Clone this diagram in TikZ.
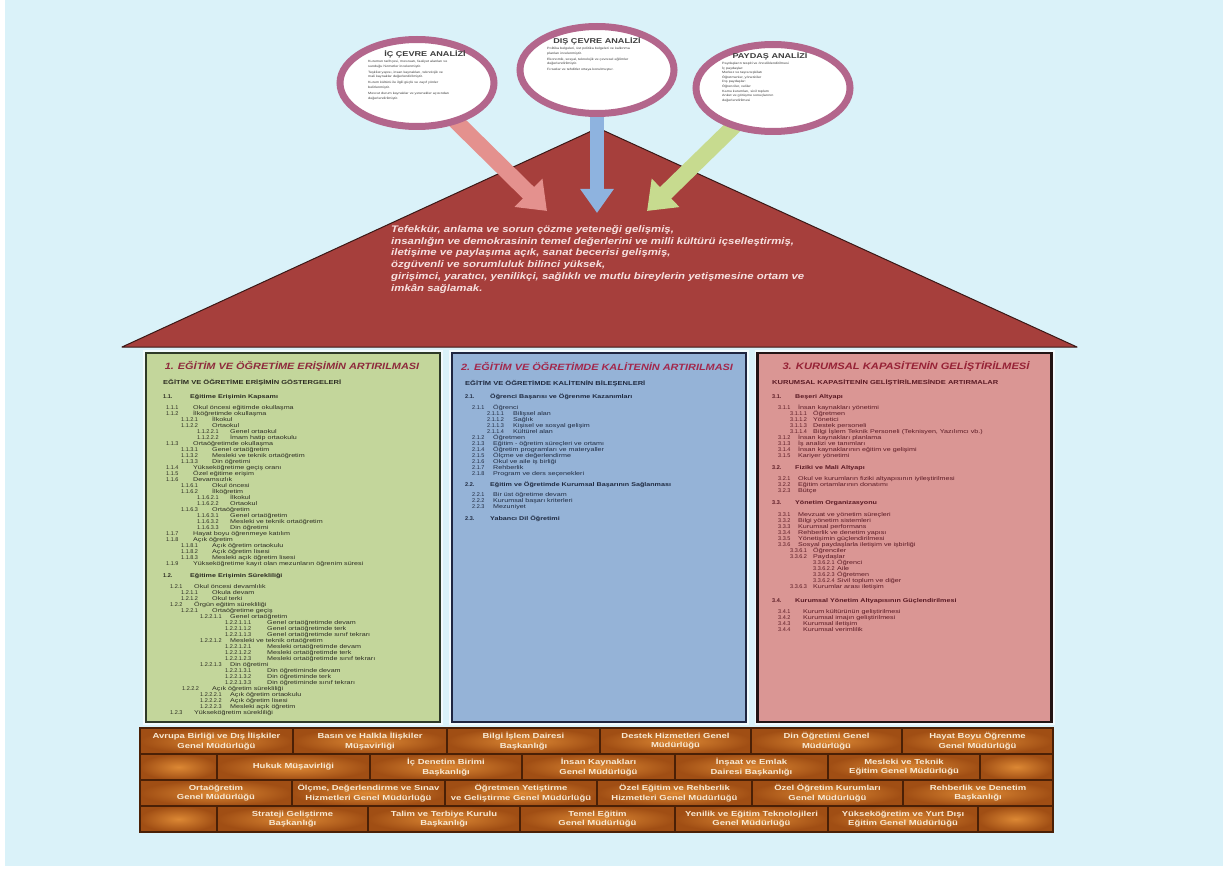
\documentclass[tikz,border=0pt]{standalone}
\usepackage{fontspec}
\setmainfont{Liberation Sans}
\newfontfamily\wideA[FakeStretch=1.3]{Liberation Sans}
\newfontfamily\wideB[FakeStretch=1.2]{Liberation Sans}
\newfontfamily\numfont{Liberation Sans}
\usetikzlibrary{shapes.geometric,arrows.meta}
\definecolor{bg}{HTML}{DAF2F9}
\definecolor{roof}{HTML}{A63F3C}
\definecolor{roofline}{HTML}{3A1816}
\definecolor{rooftxt}{HTML}{F7E1E0}
\definecolor{colA}{HTML}{C3D69B}
\definecolor{colB}{HTML}{95B3D7}
\definecolor{colC}{HTML}{DA9694}
\definecolor{lineA}{HTML}{2E3A28}
\definecolor{lineB}{HTML}{1E2540}
\definecolor{lineC}{HTML}{221414}
\definecolor{txtA}{HTML}{2C2C22}
\definecolor{txtB}{HTML}{1F2A40}
\definecolor{txtC}{HTML}{5A1A24}
\definecolor{titA}{HTML}{8E2A3C}
\definecolor{titB}{HTML}{A3284C}
\definecolor{titC}{HTML}{962236}
\definecolor{ring}{HTML}{B3668C}
\definecolor{ctext}{HTML}{3C3C3C}
\definecolor{arrA}{HTML}{E4918E}
\definecolor{arrB}{HTML}{8EB3DF}
\definecolor{arrC}{HTML}{C7DB8F}
\definecolor{brickin}{HTML}{DC8834}
\definecolor{brickout}{HTML}{A04E14}
\definecolor{brickline}{HTML}{4A2006}
\definecolor{bricktext}{HTML}{F8EAD4}
\pgfdeclarelayer{back}
\pgfdeclarelayer{mid}
\pgfsetlayers{back,mid,main}
\newcommand\Lnum[3]{\hspace*{#1pt}\makebox[#2pt][l]{\numfont #3}}
\newcommand\brk[5]{\node[brickbox, minimum width=#4pt] (#1) at (#2,#3) {#5};}
\tikzset{
  ringnode/.style={ellipse, draw=ring, line width=7pt, fill=white, minimum width=154pt, minimum height=87pt, inner sep=0pt},
  ctitle/.style={font=\wideA\fontsize{7}{7}\selectfont\bfseries, text=ctext, inner sep=0pt},
  cbody/.style={font=\wideB\fontsize{3.1}{4.6}\selectfont, text=ctext, align=left, inner sep=0pt},
  bigarrow/.style={line width=16pt, -{Triangle[width=38pt,length=26pt]}},
  colbox/.style={rectangle, line width=2.6pt, minimum width=294pt, minimum height=369pt, inner sep=0pt, preaction={draw=white!65!bg, line width=6pt}},
  coltitle/.style={font=\wideB\fontsize{9.1}{9.5}\selectfont\bfseries\itshape, inner sep=0pt},
  colsub/.style={font=\wideA\fontsize{5.8}{6}\selectfont\bfseries, inner sep=0pt, anchor=west},
  colitems/.style={font=\wideA\fontsize{5.5}{6}\selectfont, align=left, inner sep=0pt, anchor=north west},
  brickbox/.style={rectangle, draw=brickline, line width=1.3pt, inner color=brickin, outer color=brickout, minimum height=26pt, inner sep=1pt, font=\wideA\fontsize{7.3}{9.5}\selectfont\bfseries, text=bricktext, align=center},
  rooftext/.style={font=\wideB\fontsize{9.5}{11.9}\selectfont\bfseries\itshape, text=rooftxt, align=left, inner sep=0pt, anchor=north west}
}
\begin{document}
\begin{tikzpicture}[x=1pt,y=-1pt]
\useasboundingbox (0,0) rectangle (1223,869);
\begin{pgfonlayer}{back}
\fill[white] (0,0) rectangle (1223,869);
\fill[bg] (5,0) rectangle (1223,866);
\filldraw[fill=roof, draw=roofline, line width=1pt, line join=round] (122,347) -- (598,128) -- (1077,347) -- cycle;
\end{pgfonlayer}

% circles
\node[ringnode] (c1) at (417,83) {};
\node[ringnode] (c2) at (597,70) {};
\node[ringnode] (c3) at (773,88) {};

\coordinate (tipA) at (547,211);
\coordinate (tipB) at (597,213);
\coordinate (tipC) at (647,211);
\begin{pgfonlayer}{mid}
\draw[bigarrow, arrA] (c1.center) -- (tipA);
\draw[bigarrow, arrB, line width=14pt, -{Triangle[width=32pt,length=24pt]}] (c2.center) -- (tipB);
\draw[bigarrow, arrC] (c3.center) -- (tipC);
\end{pgfonlayer}

\node[ctitle] (c1t) at (425,54) {İÇ ÇEVRE ANALİZİ};
\node[cbody, anchor=north west] (c1b) at (368,60) {Kurumun tarihçesi, mevzuatı, faaliyet alanları ve\\sunduğu hizmetler incelenmiştir.\\[1.5pt]Teşkilat yapısı, insan kaynakları, teknolojik ve\\mali kaynaklar değerlendirilmiştir.\\[1.5pt]Kurum kültürü ile ilgili güçlü ve zayıf yönler\\belirlenmiştir.\\[1.5pt]Mevcut durum kaynaklar ve yetenekler açısından\\değerlendirilmiştir.};
\node[ctitle] (c2t) at (597,41) {DIŞ ÇEVRE ANALİZİ};
\node[cbody, anchor=north west] (c2b) at (547,47) {Politika belgeleri, üst politika belgeleri ve kalkınma\\planları incelenmiştir.\\[1.5pt]Ekonomik, sosyal, teknolojik ve çevresel eğilimler\\değerlendirilmiştir.\\[1.5pt]Fırsatlar ve tehditler ortaya konulmuştur.};
\node[ctitle] (c3t) at (770,56) {PAYDAŞ ANALİZİ};
\node[cbody, anchor=north west] (c3b) at (722,62) {Paydaşların tespiti ve önceliklendirilmesi\\İç paydaşlar:\\Merkez ve taşra teşkilatı\\Öğretmenler, yöneticiler\\Dış paydaşlar:\\Öğrenciler, veliler\\Kamu kurumları, sivil toplum\\Anket ve görüşme sonuçlarının\\değerlendirilmesi};

% roof text
\node[rooftext] (vision) at (391,225) {Tefekkür, anlama ve sorun çözme yeteneği gelişmiş,\\insanlığın ve demokrasinin temel değerlerini ve milli kültürü içselleştirmiş,\\iletişime ve paylaşıma açık, sanat becerisi gelişmiş,\\özgüvenli ve sorumluluk bilinci yüksek,\\girişimci, yaratıcı, yenilikçi, sağlıklı ve mutlu bireylerin yetişmesine  ortam ve\\imkân sağlamak.};

% columns
\node[colbox, fill=colA, draw=lineA] (col1) at (293,537.5) {};
\node[colbox, fill=colB, draw=lineB] (col2) at (599,537.5) {};
\node[colbox, fill=colC, draw=lineC] (col3) at (904.5,537.5) {};

\node[coltitle, text=titA] (t1) at (292,366) {1. EĞİTİM VE ÖĞRETİME ERİŞİMİN ARTIRILMASI};
\node[coltitle, text=titB] (t2) at (597,366) {2. EĞİTİM VE ÖĞRETİMDE KALİTENİN ARTIRILMASI};
\node[coltitle, text=titC, font=\wideB\fontsize{9.3}{9.5}\selectfont\bfseries\itshape] (t3) at (906,366) {3. KURUMSAL KAPASİTENİN GELİŞTİRİLMESİ};

\node[colsub, text=txtA] (s1) at (163,383) {EĞİTİM VE ÖĞRETİME ERİŞİMİN GÖSTERGELERİ};
\node[colsub, text=txtB] (s2) at (465,384) {EĞİTİM VE ÖĞRETİMDE KALİTENİN BİLEŞENLERİ};
\node[colsub, text=txtC] (s3) at (772,383) {KURUMSAL KAPASİTENİN GELİŞTİRİLMESİNDE ARTIRMALAR};

\node[colitems, text=txtA] (i1) at (163,394) {%
\textbf{\Lnum{0}{27}{1.1.}Eğitime Erişimin Kapsamı}\\[5pt]
\Lnum{3}{27}{1.1.1}Okul öncesi eğitimde okullaşma\\
\Lnum{3}{27}{1.1.2}İlköğretimde okullaşma\\
\Lnum{18}{31}{1.1.2.1}İlkokul\\
\Lnum{18}{31}{1.1.2.2}Ortaokul\\
\Lnum{34}{33}{1.1.2.2.1}Genel ortaokul\\
\Lnum{34}{33}{1.1.2.2.2}İmam hatip ortaokulu\\
\Lnum{3}{27}{1.1.3}Ortaöğretimde okullaşma\\
\Lnum{18}{31}{1.1.3.1}Genel ortaöğretim\\
\Lnum{18}{31}{1.1.3.2}Mesleki ve teknik ortaöğretim\\
\Lnum{18}{31}{1.1.3.3}Din öğretimi\\
\Lnum{3}{27}{1.1.4}Yükseköğretime geçiş oranı\\
\Lnum{3}{27}{1.1.5}Özel eğitime erişim\\
\Lnum{3}{27}{1.1.6}Devamsızlık\\
\Lnum{18}{31}{1.1.6.1}Okul öncesi\\
\Lnum{18}{31}{1.1.6.2}İlköğretim\\
\Lnum{34}{33}{1.1.6.2.1}İlkokul\\
\Lnum{34}{33}{1.1.6.2.2}Ortaokul\\
\Lnum{18}{31}{1.1.6.3}Ortaöğretim\\
\Lnum{34}{33}{1.1.6.3.1}Genel ortaöğretim\\
\Lnum{34}{33}{1.1.6.3.2}Mesleki ve teknik ortaöğretim\\
\Lnum{34}{33}{1.1.6.3.3}Din öğretimi\\
\Lnum{3}{27}{1.1.7}Hayat boyu öğrenmeye katılım\\
\Lnum{3}{27}{1.1.8}Açık öğretim\\
\Lnum{18}{31}{1.1.8.1}Açık öğretim ortaokulu\\
\Lnum{18}{31}{1.1.8.2}Açık öğretim lisesi\\
\Lnum{18}{31}{1.1.8.3}Mesleki açık öğretim lisesi\\
\Lnum{3}{27}{1.1.9}Yükseköğretime kayıt olan mezunların öğrenim süresi\\[6pt]
\textbf{\Lnum{0}{27}{1.2.}Eğitime Erişimin Sürekliliği}\\[5pt]
\Lnum{7}{24}{1.2.1}Okul öncesi devamlılık\\
\Lnum{18}{31}{1.2.1.1}Okula devam\\
\Lnum{18}{31}{1.2.1.2}Okul terki\\
\Lnum{7}{24}{1.2.2}Örgün eğitim sürekliliği\\
\Lnum{18}{31}{1.2.2.1}Ortaöğretime geçiş\\
\Lnum{37}{30}{1.2.2.1.1}Genel ortaöğretim\\
\Lnum{62}{42}{1.2.2.1.1.1}Genel ortaöğretimde devam\\
\Lnum{62}{42}{1.2.2.1.1.2}Genel ortaöğretimde terk\\
\Lnum{62}{42}{1.2.2.1.1.3}Genel ortaöğretimde sınıf tekrarı\\
\Lnum{37}{30}{1.2.2.1.2}Mesleki ve teknik ortaöğretim\\
\Lnum{62}{42}{1.2.2.1.2.1}Mesleki ortaöğretimde devam\\
\Lnum{62}{42}{1.2.2.1.2.2}Mesleki ortaöğretimde terk\\
\Lnum{62}{42}{1.2.2.1.2.3}Mesleki ortaöğretimde sınıf tekrarı\\
\Lnum{37}{30}{1.2.2.1.3}Din öğretimi\\
\Lnum{62}{42}{1.2.2.1.3.1}Din öğretiminde devam\\
\Lnum{62}{42}{1.2.2.1.3.2}Din öğretiminde terk\\
\Lnum{62}{42}{1.2.2.1.3.3}Din öğretiminde sınıf tekrarı\\
\Lnum{19}{30}{1.2.2.2}Açık öğretim sürekliliği\\
\Lnum{37}{30}{1.2.2.2.1}Açık öğretim ortaokulu\\
\Lnum{37}{30}{1.2.2.2.2}Açık öğretim lisesi\\
\Lnum{37}{30}{1.2.2.2.3}Mesleki açık öğretim\\
\Lnum{7}{24}{1.2.3}Yükseköğretim sürekliliği};

\node[colitems, text=txtB] (i2) at (465,394) {%
\textbf{\Lnum{0}{25}{2.1.}Öğrenci Başarısı ve Öğrenme Kazanımları}\\[5pt]
\Lnum{7}{21}{2.1.1}Öğrenci\\
\Lnum{22}{26}{2.1.1.1}Bilişsel alan\\
\Lnum{22}{26}{2.1.1.2}Sağlık\\
\Lnum{22}{26}{2.1.1.3}Kişisel ve sosyal gelişim\\
\Lnum{22}{26}{2.1.1.4}Kültürel alan\\
\Lnum{7}{21}{2.1.2}Öğretmen\\
\Lnum{7}{21}{2.1.3}Eğitim - öğretim süreçleri ve ortamı\\
\Lnum{7}{21}{2.1.4}Öğretim programları ve materyaller\\
\Lnum{7}{21}{2.1.5}Ölçme ve değerlendirme\\
\Lnum{7}{21}{2.1.6}Okul ve aile iş birliği\\
\Lnum{7}{21}{2.1.7}Rehberlik\\
\Lnum{7}{21}{2.1.8}Program ve ders seçenekleri\\[5pt]
\textbf{\Lnum{0}{25}{2.2.}Eğitim ve Öğretimde Kurumsal Başarının Sağlanması}\\[4pt]
\Lnum{7}{21}{2.2.1}Bir üst öğretime devam\\
\Lnum{7}{21}{2.2.2}Kurumsal başarı kriterleri\\
\Lnum{7}{21}{2.2.3}Mezuniyet\\[6pt]
\textbf{\Lnum{0}{25}{2.3.}Yabancı Dil Öğretimi}};

\node[colitems, text=txtC] (i3) at (772,394) {%
\textbf{\Lnum{0}{23}{3.1.}Beşeri Altyapı}\\[5pt]
\Lnum{6}{20}{3.1.1}İnsan kaynakları yönetimi\\
\Lnum{18}{23}{3.1.1.1}Öğretmen\\
\Lnum{18}{23}{3.1.1.2}Yönetici\\
\Lnum{18}{23}{3.1.1.3}Destek personeli\\
\Lnum{18}{23}{3.1.1.4}Bilgi İşlem Teknik Personeli (Teknisyen, Yazılımcı vb.)\\
\Lnum{6}{20}{3.1.2}İnsan kaynakları planlama\\
\Lnum{6}{20}{3.1.3}İş analizi ve tanımları\\
\Lnum{6}{20}{3.1.4}İnsan kaynaklarının eğitim ve gelişimi\\
\Lnum{6}{20}{3.1.5}Kariyer yönetimi\\[6pt]
\textbf{\Lnum{0}{23}{3.2.}Fiziki ve Mali Altyapı}\\[5pt]
\Lnum{6}{20}{3.2.1}Okul ve kurumların fiziki altyapısının iyileştirilmesi\\
\Lnum{6}{20}{3.2.2}Eğitim ortamlarının donatımı\\
\Lnum{6}{20}{3.2.3}Bütçe\\[6pt]
\textbf{\Lnum{0}{23}{3.3.}Yönetim Organizasyonu}\\[6pt]
\Lnum{6}{20}{3.3.1}Mevzuat ve yönetim süreçleri\\
\Lnum{6}{20}{3.3.2}Bilgi yönetim sistemleri\\
\Lnum{6}{20}{3.3.3}Kurumsal performans\\
\Lnum{6}{20}{3.3.4}Rehberlik ve denetim yapısı\\
\Lnum{6}{20}{3.3.5}Yönetişimin güçlendirilmesi\\
\Lnum{6}{20}{3.3.6}Sosyal paydaşlarla iletişim ve işbirliği\\
\Lnum{18}{23}{3.3.6.1}Öğrenciler\\
\Lnum{18}{23}{3.3.6.2}Paydaşlar\\
\Lnum{41}{24}{3.3.6.2.1}Öğrenci\\
\Lnum{41}{24}{3.3.6.2.2}Aile\\
\Lnum{41}{24}{3.3.6.2.3}Öğretmen\\
\Lnum{41}{24}{3.3.6.2.4}Sivil toplum ve diğer\\
\Lnum{18}{23}{3.3.6.3}Kurumlar arası iletişim\\[8pt]
\textbf{\Lnum{0}{23}{3.4.}Kurumsal Yönetim Altyapısının Güçlendirilmesi}\\[5pt]
\Lnum{6}{25}{3.4.1}Kurum kültürünün geliştirilmesi\\
\Lnum{6}{25}{3.4.2}Kurumsal imajın geliştirilmesi\\
\Lnum{6}{25}{3.4.3}Kurumsal iletişim\\
\Lnum{6}{25}{3.4.4}Kurumsal verimlilik};

% bricks
\brk{b11}{216.5}{741}{153}{Avrupa Birliği ve Dış İlişkiler\\Genel Müdürlüğü}
\brk{b12}{370}{741}{154}{Basın ve Halkla İlişkiler\\Müşavirliği}
\brk{b13}{523.5}{741}{153}{Bilgi İşlem Dairesi\\Başkanlığı}
\brk{b14}{675.5}{741}{151}{Destek Hizmetleri Genel\\Müdürlüğü}
\brk{b15}{826.5}{741}{151}{Din Öğretimi Genel\\Müdürlüğü}
\brk{b16}{977.5}{741}{151}{Hayat Boyu Öğrenme\\Genel Müdürlüğü}
\brk{b21}{178.5}{767}{77}{}
\brk{b22}{293.5}{767}{153}{Hukuk Müşavirliği}
\brk{b23}{446}{767}{152}{İç Denetim Birimi\\Başkanlığı}
\brk{b24}{598.5}{767}{153}{İnsan Kaynakları\\Genel Müdürlüğü}
\brk{b25}{751.5}{767}{153}{İnşaat ve Emlak\\Dairesi Başkanlığı}
\brk{b26}{904}{767}{152}{Mesleki ve Teknik\\Eğitim Genel Müdürlüğü}
\brk{b27}{1016.5}{767}{73}{}
\brk{b31}{216}{793}{152}{Ortaöğretim\\Genel Müdürlüğü}
\brk{b32}{368.5}{793}{153}{Ölçme, Değerlendirme ve Sınav\\Hizmetleri Genel Müdürlüğü}
\brk{b33}{521}{793}{152}{Öğretmen Yetiştirme\\ve Geliştirme Genel Müdürlüğü}
\brk{b34}{674.5}{793}{155}{Özel Eğitim ve Rehberlik\\Hizmetleri Genel Müdürlüğü}
\brk{b35}{827.5}{793}{151}{Özel Öğretim Kurumları\\Genel Müdürlüğü}
\brk{b36}{978}{793}{150}{Rehberlik ve Denetim\\Başkanlığı}
\brk{b41}{178.5}{819}{77}{}
\brk{b42}{292.5}{819}{151}{Strateji Geliştirme\\Başkanlığı}
\brk{b43}{444}{819}{152}{Talim ve Terbiye Kurulu\\Başkanlığı}
\brk{b44}{597.5}{819}{155}{Temel Eğitim\\Genel Müdürlüğü}
\brk{b45}{751.5}{819}{153}{Yenilik ve Eğitim Teknolojileri\\Genel Müdürlüğü}
\brk{b46}{903}{819}{150}{Yükseköğretim ve Yurt Dışı\\Eğitim Genel Müdürlüğü}
\brk{b47}{1015.5}{819}{75}{}
\end{tikzpicture}
\end{document}
